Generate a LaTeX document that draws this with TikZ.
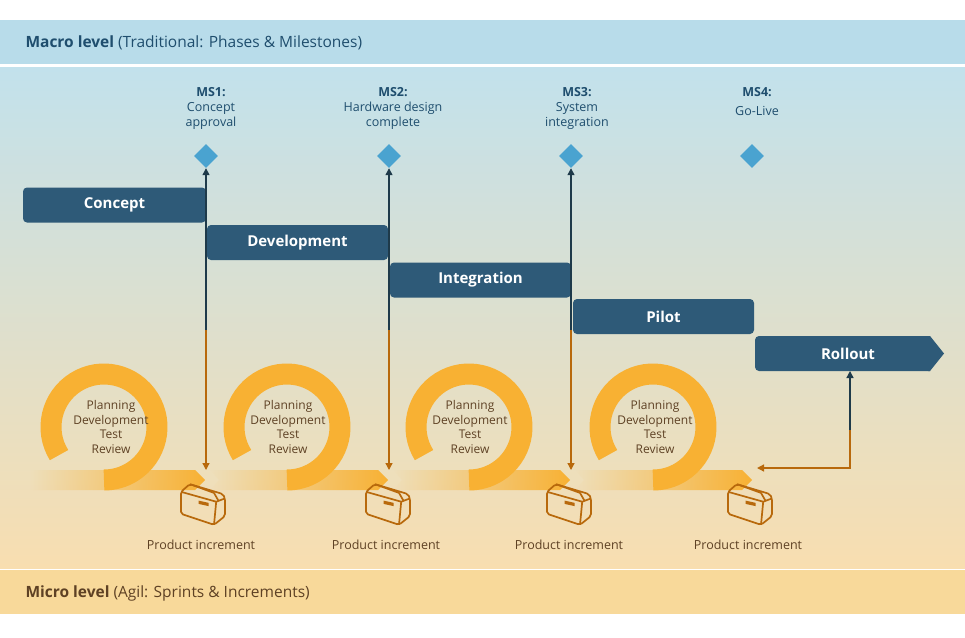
\documentclass[tikz,border=0pt]{standalone}
\usepackage{fontspec}
\setmainfont{Open Sans}
\usetikzlibrary{arrows.meta,fadings,shapes.geometric}
\definecolor{navy}{HTML}{2E5A78}
\definecolor{dnavy}{HTML}{1E3A4A}
\definecolor{ring}{HTML}{F8B133}
\definecolor{brn}{HTML}{B8690C}
\definecolor{txtb}{HTML}{5E4124}
\definecolor{hdrb}{HTML}{1F4E6E}
\definecolor{dia}{HTML}{4AA3D0}
\tikzfading[name=fadein, left color=transparent!100, right color=transparent!0]
\tikzset{
  bar/.style={fill=navy, text=white, font=\fontsize{15}{17}\selectfont\bfseries, minimum height=35, inner sep=0},
  ms/.style={font=\fontsize{12.5}{15}\selectfont, text=hdrb, align=center},
  msd/.style={diamond, fill=dia, minimum width=24, minimum height=24, inner sep=0},
  cyc/.style={font=\fontsize{12}{14.5}\selectfont, text=txtb, align=center},
  pin/.style={font=\fontsize{12.5}{15}\selectfont, text=txtb},
  up/.style={dnavy, line width=1.3, -{Triangle[width=7,length=7]}},
  dn/.style={brn, line width=1.3, -{Triangle[width=7,length=7]}},
}
\begin{document}
\begin{tikzpicture}[x=1pt,y=-1pt]
\useasboundingbox (0,0) rectangle (965,637);
\fill[white] (0,0) rectangle (965,637);
% bands
\fill[top color={rgb,255:red,194;green,225;blue,236}, bottom color={rgb,255:red,248;green,222;blue,176}] (0,67) rectangle (965,568);
\fill[fill={rgb,255:red,184;green,220;blue,234}] (0,20) rectangle (965,64);
\fill[fill={rgb,255:red,248;green,217;blue,154}] (0,570) rectangle (965,614);
\node[anchor=west, text=hdrb, font=\fontsize{15.5}{17}\selectfont] (macro) at (22,43) {\textbf{Macro level} (Traditional: Phases \& Milestones)};
\node[anchor=west, text=txtb, font=\fontsize{15.5}{17}\selectfont] (micro) at (22,593) {\textbf{Micro level} (Agil: Sprints \& Increments)};
% milestones
\node[ms] (m1) at (211,108) {\textbf{MS1:}\\Concept\\approval};
\node[ms] (m2) at (393,108) {\textbf{MS2:}\\Hardware design\\complete};
\node[ms] (m3) at (577,108) {\textbf{MS3:}\\System\\integration};
\node[ms] (m4) at (757,102) {\textbf{MS4:}\\[4pt]Go-Live};
\node[msd] (d1) at (206,156) {};
\node[msd] (d2) at (389,156) {};
\node[msd] (d3) at (571,156) {};
\node[msd] (d4) at (752,156) {};
% phases
\node[bar, rounded corners=4, minimum width=183] (concept) at (114.5,205) {Concept};
\node[bar, rounded corners=4, minimum width=181] (dev) at (297.5,242.5) {Development};
\node[bar, rounded corners=4, minimum width=181] (integ) at (480.5,280) {Integration};
\node[bar, rounded corners=4, minimum width=181] (pilot) at (663.5,316.5) {Pilot};
\fill[navy, rounded corners=4] (930,336) -- (755,336) -- (755,371) -- (930,371);
\fill[navy] (928,336) -- (930,336) -- (944,353.5) -- (930,371) -- (928,371) -- cycle;
\node[text=white, font=\fontsize{15}{17}\selectfont\bfseries] (roll) at (848,353.5) {Rollout};
\coordinate (rollb) at (850,371);
% sprint bands
\foreach \a/\b/\n in {30/205/0, 210/388/1, 393/570/1, 575/752/1}{
  \ifnum\n=0
    \fill[ring, path fading=fadein] (\a,470) -- (\b-10,470) -- (\b,480) -- (\b-10,490) -- (\a,490) -- cycle;
  \else
    \fill[ring, path fading=fadein] (\a,470) -- (\b-10,470) -- (\b,480) -- (\b-10,490) -- (\a,490) -- (\a+9,480) -- cycle;
  \fi
}
% rings
\foreach \c/\t in {104/111, 287/288, 469/470, 653/655}{
  \draw[ring, line width=21] (\c,427) ++(148:53) arc[start angle=148, end angle=450, radius=53];
  \node[cyc] at (\t,427) {Planning\\Development\\Test\\Review};
}
% boxes and labels
\foreach \x/\l in {203/201, 388/386, 569/569, 750/748}{
  \begin{scope}[shift={(\x,505)}, scale=1.1, brn, line width=1.7, line join=round]
    \draw[rounded corners=2] (-20,-12) -- (-12,-19) -- (18,-10) -- (20,-6) -- (20,10) -- (10,18) -- (-20,8) -- cycle;
    \draw (-20,-12) -- (12,-3) -- (20,-6);
    \draw (12,-3) -- (10,18);
    \draw (-12,-19) -- (10,-11) -- (14,-4);
    \fill (-4,-4) -- (5,-2) -- (5,1) -- (-4,-1) -- cycle;
  \end{scope}
  \node[pin] at (\l,545) {Product increment};
}
% milestone connectors
\foreach \d/\x in {d1/206, d2/389, d3/571}{
  \coordinate (mid\d) at (\x,330);
  \coordinate (bot\d) at (\x,470);
  \draw[up] (mid\d) -- (\d.south);
  \draw[dn] (mid\d) -- (bot\d);
}
\coordinate (rmid) at (850,430);
\coordinate (rend) at (757,468);
\draw[up] (rmid) -- (rollb);
\draw[dn] (rmid) |- (rend);
\end{tikzpicture}
\end{document}
